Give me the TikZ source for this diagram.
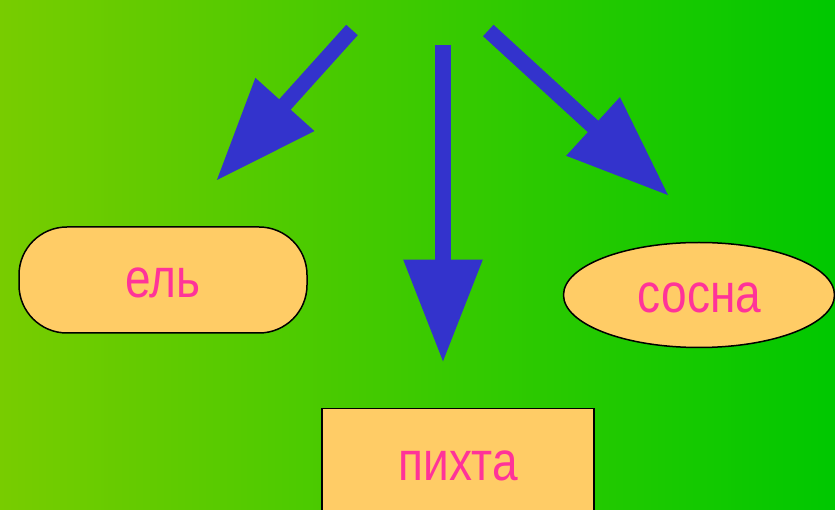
\documentclass[tikz,border=0pt]{standalone}
\usepackage{fontspec}
\setmainfont{Liberation Sans}
\usepackage{graphicx}
\usetikzlibrary{arrows.meta,shapes.geometric}
\definecolor{bgleft}{RGB}{120,204,0}
\definecolor{bgright}{RGB}{0,200,0}
\definecolor{arrowblue}{RGB}{51,51,204}
\definecolor{boxfill}{RGB}{255,204,102}
\definecolor{txtpink}{RGB}{255,51,153}
\tikzset{
  conn/.style={draw=arrowblue, line width=15.5pt,
    -{Triangle[length=103pt,width=75pt]}},
  lbl/.style={text=txtpink, font=\fontsize{46}{50}\selectfont, inner sep=0pt},
  shapebox/.style={draw=black, fill=boxfill, line width=1.5pt}
}
\newcommand{\tallword}[1]{\scalebox{1}[1.2]{#1}}
\begin{document}
\begin{tikzpicture}[x=1pt,y=-1pt]
\useasboundingbox (0,0) rectangle (835,510);
\clip (0,0) rectangle (835,510);
\shade[left color=bgleft, right color=bgright] (0,0) rectangle (835,510);
% nodes
\node[shapebox, rectangle, rounded corners=48pt, minimum width=288pt, minimum height=106pt] (el) at (163,280) {};
\node[lbl] at (163,283) {\tallword{ель}};
\node[shapebox, ellipse, minimum width=271pt, minimum height=105pt, inner sep=0pt] (sosna) at (699,295) {};
\node[lbl] at (699.5,298) {\tallword{сосна}};
\node[shapebox, rectangle, minimum width=272pt, minimum height=114pt] (pihta) at (458,465.5) {};
\node[lbl] at (458,465.5) {\tallword{пихта}};
% arrow anchors
\coordinate (sL) at (352,30);
\coordinate (eL) at (216,181);
\coordinate (sM) at (443,45.3);
\coordinate (eM) at (443,362.7);
\coordinate (sR) at (488.3,30.5);
\coordinate (eR) at (669,196);
\draw[conn] (sL) -- (eL);
\draw[conn] (sM) -- (eM);
\draw[conn] (sR) -- (eR);
\end{tikzpicture}
\end{document}
